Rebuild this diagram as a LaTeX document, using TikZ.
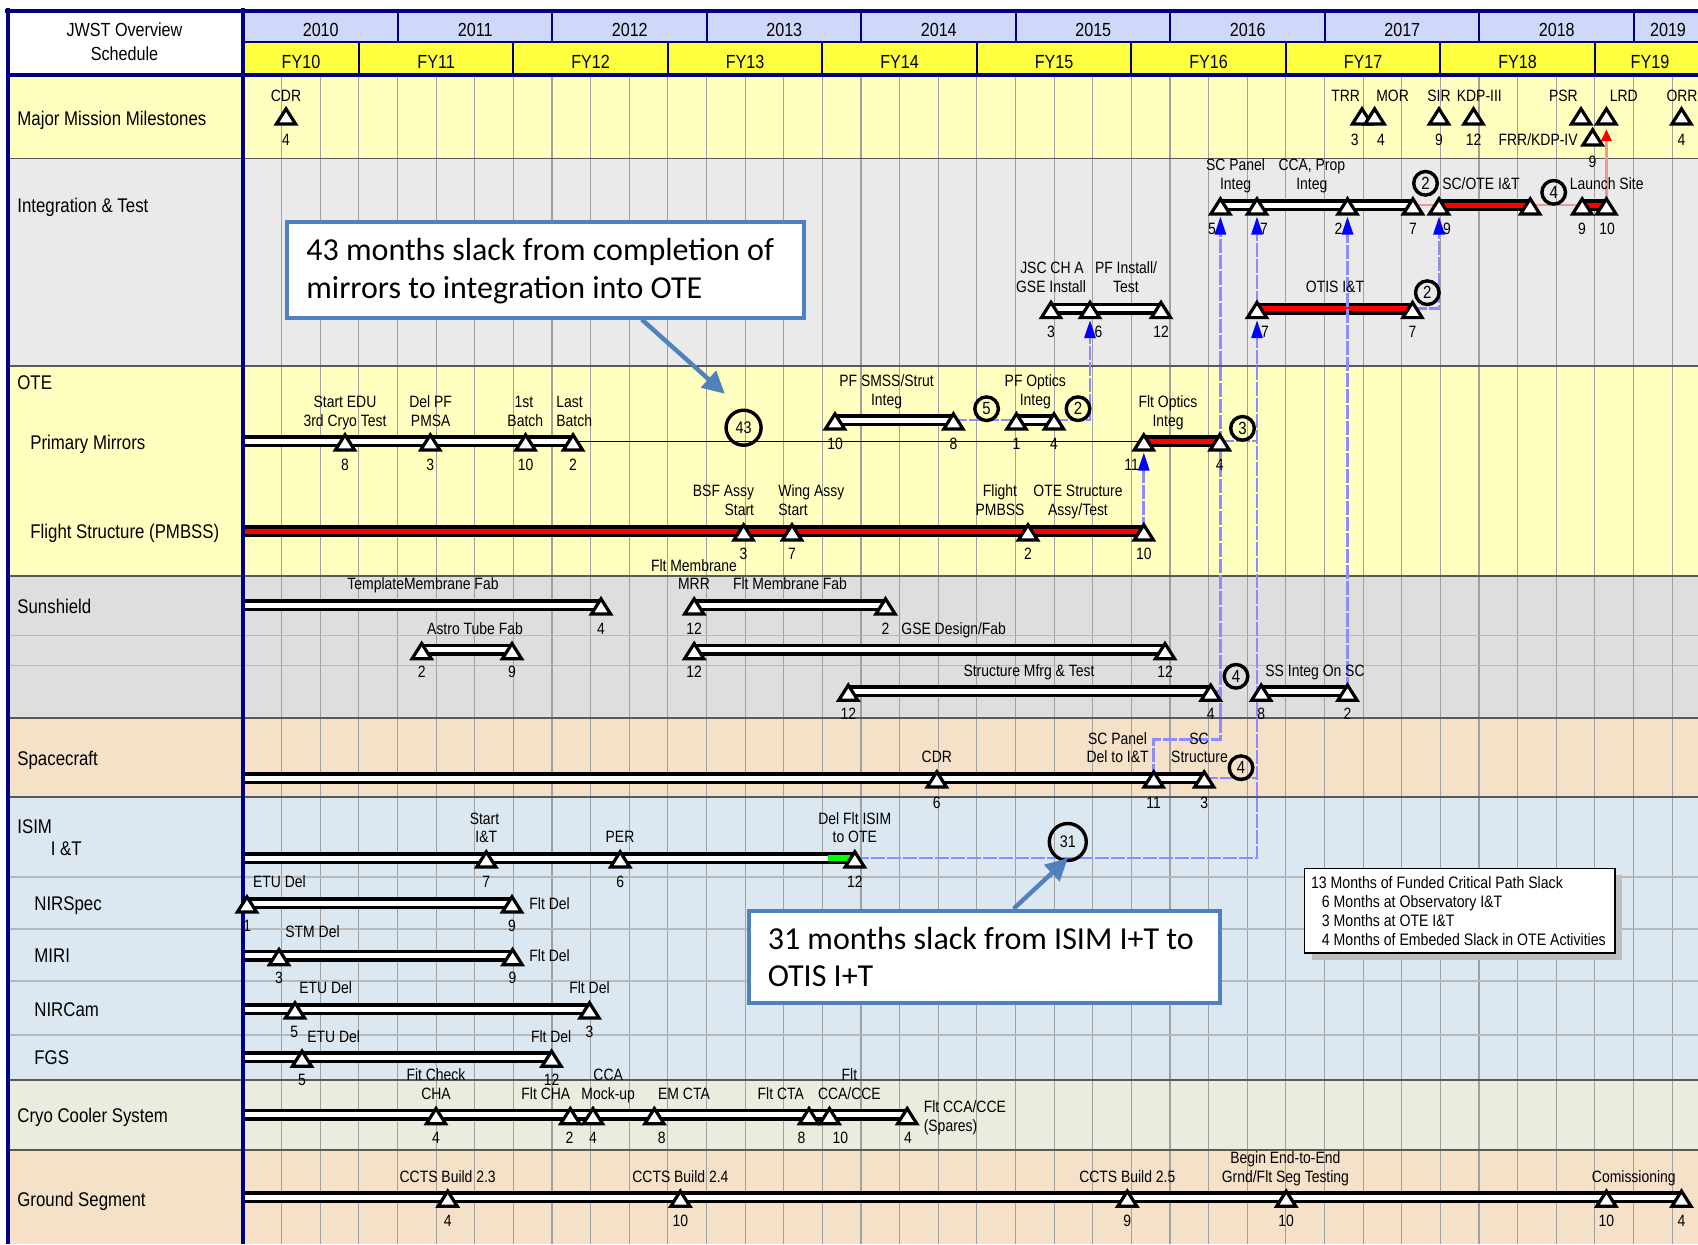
\documentclass[tikz,border=0pt]{standalone}
\usepackage{fontspec}
\setmainfont{Liberation Sans}[FakeStretch=0.85]
\newfontfamily\calib{Carlito}
\usetikzlibrary{arrows.meta,calc}
\definecolor{cNavy}{RGB}{0,0,128}
\definecolor{cYear}{RGB}{208,216,250}
\definecolor{cFY}{RGB}{255,255,64}
\definecolor{cYel}{RGB}{255,255,191}
\definecolor{cGrA}{RGB}{234,234,234}
\definecolor{cGrB}{RGB}{222,222,222}
\definecolor{cPeach}{RGB}{245,225,200}
\definecolor{cBlu}{RGB}{220,232,241}
\definecolor{cBeige}{RGB}{236,236,222}
\definecolor{cGrid}{RGB}{160,160,160}
\definecolor{cLB}{RGB}{140,140,255}
\definecolor{cLR}{RGB}{245,150,150}
\definecolor{cCall}{RGB}{79,129,189}
\definecolor{cShadow}{RGB}{190,190,190}
\newcounter{tn}
\newcommand\TXT[4][sm]{\stepcounter{tn}\node[#1] (t\arabic{tn}) at (#2,#3) {#4};}
\newcommand\mkms[3]{\coordinate (#1) at (#2,#3);}
\newcommand\mkbar[3]{\draw[#3] ($(#1)+(0,-4.3)$) rectangle ($(#2)+(0,4.3)$);}
\newcommand\NUMS[2]{\foreach \xx/\nn in {#2}{\TXT{\xx}{#1}{\nn}}}
\tikzset{
  sm/.style={font=\fontsize{8.2}{9.5}\selectfont, inner sep=0pt, text height=5.9pt, text depth=0pt},
  smw/.style={sm, anchor=west},
  sme/.style={sm, anchor=east},
  big/.style={font=\fontsize{9.9}{11}\selectfont, inner sep=0pt, text height=7.1pt, text depth=0pt, anchor=west},
  hdr/.style={font=\fontsize{9.5}{11}\selectfont, inner sep=0pt, text height=6.8pt, text depth=0pt},
  leg/.style={font=\fontsize{8.3}{9.5}\selectfont, inner sep=0pt, text height=6pt, text depth=0pt, anchor=west},
  cal/.style={font=\calib\fontsize{16}{19}\selectfont, inner sep=0pt, text height=10.1pt, text depth=0pt, anchor=west},
  circ/.style={circle, draw=black, line width=1.7pt, minimum size=11.8pt, inner sep=0pt, font=\fontsize{8.8}{9}\selectfont},
  barw/.style={draw=black, fill=white, line width=1.8pt},
  barr/.style={draw=black, fill=red, line width=1.8pt},
  mstone/.pic={\draw[black, fill=white, line width=1.6pt, line join=miter] (0,-6.2) -- (9.6,9) -- (-9.6,9) -- cycle;},
  blu/.style={draw=cLB, line width=1.4pt, dash pattern=on 7pt off 1pt},
  bt/.tip={Triangle[length=9pt,width=5.5pt,color=blue]},
  callarr/.style={draw=cCall, line width=2.2pt, -{Triangle[length=11pt,width=11pt,color=cCall]}},
  callbox/.style={draw=cCall, fill=white, line width=2pt, inner sep=0pt}
}
\begin{document}
\begin{tikzpicture}[x=0.5pt,y=-0.5pt]
\useasboundingbox (0,0) rectangle (1698,1244);
\fill[white] (0,0) rectangle (1698,1244);
% row backgrounds
\fill[cYel] (10,75) rectangle (1698,158.3);
\fill[cGrA] (10,158.3) rectangle (1698,366);
\fill[cYel] (10,366) rectangle (1698,576);
\fill[cGrB] (10,576) rectangle (1698,718);
\fill[cPeach] (10,718) rectangle (1698,797);
\fill[cBlu] (10,797) rectangle (1698,1080);
\fill[cBeige] (10,1080) rectangle (1698,1150);
\fill[cPeach] (10,1150) rectangle (1698,1244);
% header
\fill[white] (10,12.7) rectangle (241,75);
\fill[cYear] (243,12.7) rectangle (1698,41.7);
\fill[cFY] (243,41.7) rectangle (1698,75);
% grid
\foreach \q in {1,...,37} \draw[cGrid, line width=0.6pt] ({243+38.625*\q},75) -- ({243+38.625*\q},1244);
\foreach \yy in {635.3,665.3,877,929,981,1035} \draw[black!28, line width=0.6pt] (10,\yy) -- (1698,\yy);
\foreach \yy in {158.3,366,576,718,797,1080,1150} \draw[black!65, line width=0.6pt] (10,\yy) -- (1698,\yy);
\foreach \k in {1,...,9} \draw[cNavy, line width=1pt] ({243+154.5*\k},12.7) -- ({243+154.5*\k},41.7);
\foreach \k in {0,...,8} \draw[cNavy, line width=1pt] ({358.9+154.5*\k},41.7) -- ({358.9+154.5*\k},75);
\draw[cNavy, line width=1pt] (243,41.7) -- (1698,41.7);
\draw[cNavy, line width=1.6pt] (8,75) -- (1698,75);

% milestone coordinates
\mkms{mCDR}{286}{115} \mkms{mTRR}{1362}{115} \mkms{mMOR}{1374.6}{115} \mkms{mSIR}{1439}{115}
\mkms{mKDP}{1473.5}{115} \mkms{mPSR}{1581}{115} \mkms{mLRD}{1606.4}{115} \mkms{mFRR}{1592.6}{136} \mkms{mORR}{1681.5}{115}
\mkms{i1}{1220.4}{205} \mkms{i2}{1257}{205} \mkms{i3}{1347.5}{205} \mkms{i4}{1412.9}{205}
\mkms{i5}{1439}{205} \mkms{i6}{1530.2}{205} \mkms{i7}{1582.2}{205} \mkms{i8}{1606.4}{205}
\mkms{j1}{1051}{308.6} \mkms{j2}{1090}{308.6} \mkms{j3}{1161}{308.6}
\mkms{o1}{1257}{308.6} \mkms{o2}{1412.5}{308.6}
\coordinate (p0) at (243,441);
\mkms{p1}{345}{441} \mkms{p2}{430.3}{441} \mkms{p3}{525.6}{441} \mkms{p4}{573}{441}
\mkms{s1}{835}{420} \mkms{s2}{953.4}{420} \mkms{s3}{1016.5}{420} \mkms{s4}{1054}{420}
\mkms{f1}{1143.8}{441} \mkms{f2}{1219.7}{441}
\coordinate (g0) at (243,531);
\mkms{g1}{743.6}{531} \mkms{g2}{792}{531} \mkms{g3}{1028}{531} \mkms{g4}{1143.8}{531}
\coordinate (u0) at (243,605);
\mkms{u1}{601}{605} \mkms{u2}{694.2}{605} \mkms{u3}{885.5}{605}
\mkms{u4}{421.7}{649.7} \mkms{u5}{512}{649.7} \mkms{u6}{694.2}{649.7} \mkms{u7}{1165}{649.7}
\mkms{u8}{848.3}{691.3} \mkms{u9}{1210.7}{691.3} \mkms{u10}{1261.2}{691.3} \mkms{u11}{1347.5}{691.3}
\coordinate (c0) at (243,778);
\mkms{c1}{936.8}{778} \mkms{c2}{1153.7}{778} \mkms{c3}{1204.2}{778}
\coordinate (d0) at (243,858);
\mkms{d1}{486.3}{858} \mkms{d2}{620.2}{858} \mkms{d3}{854.8}{858}
\mkms{n1}{247}{903} \mkms{n2}{512}{903}
\coordinate (r0) at (243,955.7); \mkms{r1}{279}{955.7} \mkms{r2}{512.6}{955.7}
\coordinate (k0) at (243,1009); \mkms{k1}{295}{1009} \mkms{k2}{589.5}{1009}
\coordinate (q0) at (243,1057.3); \mkms{q1}{302}{1057.3} \mkms{q2}{551.6}{1057.3}
\coordinate (y0) at (243,1114.7);
\mkms{y1}{436}{1114.7} \mkms{y2}{570.3}{1114.7} \mkms{y3}{593}{1114.7} \mkms{y4}{654.4}{1114.7}
\mkms{y5}{809}{1114.7} \mkms{y6}{829.5}{1114.7} \mkms{y7}{907.2}{1114.7}
\coordinate (z0) at (243,1197.3);
\mkms{z1}{447.7}{1197.3} \mkms{z2}{680.4}{1197.3} \mkms{z3}{1127.3}{1197.3} \mkms{z4}{1286.2}{1197.3}
\mkms{z5}{1606.4}{1197.3} \mkms{z6}{1681.5}{1197.3}

% thin critical path line
\draw[black, line width=0.5pt] (p4) -- (f1);
% bars
\mkbar{i1}{i4}{barw} \mkbar{i5}{i6}{barr} \mkbar{i7}{i8}{barr}
\mkbar{j1}{j3}{barw} \mkbar{o1}{o2}{barr}
\mkbar{p0}{p4}{barw} \mkbar{s1}{s2}{barw} \mkbar{s3}{s4}{barw} \mkbar{f1}{f2}{barr}
\mkbar{g0}{g4}{barr}
\mkbar{u0}{u1}{barw} \mkbar{u2}{u3}{barw} \mkbar{u4}{u5}{barw} \mkbar{u6}{u7}{barw}
\mkbar{u8}{u9}{barw} \mkbar{u10}{u11}{barw}
\mkbar{c0}{c3}{barw}
\mkbar{d0}{d3}{barw}
\fill[green] (828,854.6) rectangle (850,861.4);
\mkbar{n1}{n2}{barw} \mkbar{r0}{r2}{barw} \mkbar{k0}{k2}{barw} \mkbar{q0}{q2}{barw}
\mkbar{y0}{y7}{barw} \mkbar{z0}{z6}{barw}

% borders
\draw[cNavy, line width=2pt] (5,10.5) -- (1698,10.5);
\draw[cNavy, line width=2.2pt] (7.7,8) -- (7.7,1244);
\draw[cNavy, line width=2pt] (242.6,8) -- (242.6,1244);

% connectors
\coordinate (kk1) at (1220.4,739.3);
\draw[blu,-{bt}] (d3) -| ($(o1)+(0,11.5)$);
\draw[blu,-{bt}] ($(o1)+(0,-4)$) -- ($(i2)+(0,11.5)$);
\draw[blu] (f2) -- (o1 |- f2);
\draw[blu] (c3) -- (o1 |- c3);
\draw[blu,-{bt}] (c2) |- (kk1) -- ($(i1)+(0,11.5)$);
\draw[blu] (u9) -- (i1 |- u9);
\draw[blu,-{bt}] (u11) -- ($(i3)+(0,11.5)$);
\draw[blu,-{bt}] (o2) -| ($(i5)+(0,11.5)$);
\draw[blu,-{bt}] (g4) -- ($(f1)+(0,11.5)$);
\draw[blu,-{bt}] (s4) -| ($(j2)+(0,11.5)$);
\draw[blu] (s2) -- (s3);
\draw[cLR, line width=1.2pt] (i4) -- (i5);
\draw[cLR, line width=1.2pt] (i6) -- (i7);
\draw[cLR, line width=1.5pt, -{Triangle[length=6pt,width=5pt,color=red]}] ($(i8)+(0,-4)$) -- ($(mLRD)+(0,14)$);

% milestones
\foreach \n in {mCDR,mTRR,mMOR,mSIR,mKDP,mPSR,mLRD,mFRR,mORR,i1,i2,i3,i4,i5,i6,i7,i8,j1,j2,j3,o1,o2,
  p1,p2,p3,p4,s1,s2,s3,s4,f1,f2,g1,g2,g3,g4,u1,u2,u3,u4,u5,u6,u7,u8,u9,u10,u11,c1,c2,c3,d1,d2,d3,
  n1,n2,r1,r2,k1,k2,q1,q2,y1,y2,y3,y4,y5,y6,y7,z1,z2,z3,z4,z5,z6} {\path (\n) pic{mstone};}

% circles
\node[circ] (cc1) at (1425.5,183.3) {2};
\node[circ] (cc2) at (1553.7,192.3) {4};
\node[circ] (cc3) at (1427.3,292.7) {2};
\node[circ] (cc4) at (986.6,408.7) {5};
\node[circ] (cc5) at (1078,408.7) {2};
\node[circ, minimum size=17.5pt, font=\fontsize{8.4}{9}\selectfont] (cc6) at (743.6,427.7) {43};
\node[circ] (cc7) at (1242.5,428.3) {3};
\node[circ] (cc8) at (1236,676.3) {4};
\node[circ] (cc9) at (1241,767.7) {4};
\node[circ, minimum size=18.5pt, font=\fontsize{8.4}{9}\selectfont] (cc10) at (1067.8,842) {31};

% header texts
\TXT[hdr]{124.5}{29.3}{JWST Overview}
\TXT[hdr]{124.5}{53.3}{Schedule}
\foreach \k/\yr in {0/2010,1/2011,2/2012,3/2013,4/2014,5/2015,6/2016,7/2017,8/2018}{\TXT[hdr]{320.75+154.5*\k}{29.3}{\yr}}
\TXT[hdr]{1668}{29.3}{2019}
\TXT[hdr]{301}{61.7}{FY10}
\foreach \k/\fy in {0/FY11,1/FY12,2/FY13,3/FY14,4/FY15,5/FY16,6/FY17,7/FY18}{\TXT[hdr]{436.1+154.5*\k}{61.7}{\fy}}
\TXT[hdr]{1650}{61.7}{FY19}

% row labels
\TXT[big]{17}{118}{Major Mission Milestones}
\TXT[big]{17}{205}{Integration \& Test}
\TXT[big]{17}{382.7}{OTE}
\TXT[big]{30}{442.7}{Primary Mirrors}
\TXT[big]{30}{531.7}{Flight Structure (PMBSS)}
\TXT[big]{17}{606}{Sunshield}
\TXT[big]{17}{758}{Spacecraft}
\TXT[big]{17}{826}{ISIM}
\TXT[big]{50.5}{848.7}{I \&T}
\TXT[big]{34}{903.7}{NIRSpec}
\TXT[big]{34}{955.7}{MIRI}
\TXT[big]{34}{1009}{NIRCam}
\TXT[big]{34}{1057.3}{FGS}
\TXT[big]{17}{1115.7}{Cryo Cooler System}
\TXT[big]{17}{1199}{Ground Segment}

% MMM
\TXT{286}{96}{CDR} \TXT{286}{139.3}{4}
\TXT{1345.7}{96}{TRR} \TXT{1354.7}{139.3}{3}
\TXT{1392.6}{96}{MOR} \TXT{1381}{139.3}{4}
\TXT{1439}{96}{SIR} \TXT{1439}{139.3}{9}
\TXT{1479.3}{96}{KDP-III} \TXT{1473.5}{139.3}{12}
\TXT{1563.4}{96}{PSR}
\TXT{1623.7}{96}{LRD}
\TXT[sme]{1578}{139.3}{FRR/KDP-IV} \TXT{1592.6}{161.7}{9}
\TXT{1682}{96}{ORR} \TXT{1681.5}{139.3}{4}
% I&T
\TXT{1235.6}{165}{SC Panel} \TXT{1235.6}{184}{Integ}
\TXT{1311.8}{165}{CCA, Prop} \TXT{1311.8}{184}{Integ}
\TXT{1481}{183.3}{SC/OTE I\&T}
\TXT{1606.7}{183.3}{Launch Site}
\NUMS{228.3}{1212/5,1264/7,1338.5/2,1413/7,1447/9,1582/9,1607/10}
\TXT{1052}{268}{JSC CH A} \TXT{1051}{287}{GSE Install}
\TXT{1126}{268}{PF Install/} \TXT{1126}{287}{Test}
\TXT{1335}{287}{OTIS I\&T}
\NUMS{331.7}{1051/3,1098.5/6,1161/12,1265/7,1412.5/7}
% OTE
\TXT{345}{401.7}{Start EDU} \TXT{345}{420.3}{3rd Cryo Test}
\TXT{430.7}{401.7}{Del PF} \TXT{430.7}{420.3}{PMSA}
\TXT{524}{401.7}{1st} \TXT{525.3}{420.3}{Batch}
\TXT[smw]{556}{401.7}{Last} \TXT[smw]{556}{420.3}{Batch}
\NUMS{465}{345/8,430.3/3,525.6/10,573/2,1131.6/11,1219.7/4}
\TXT{886.6}{380.3}{PF SMSS/Strut} \TXT{886.6}{399.3}{Integ}
\TXT{1035.3}{380.3}{PF Optics} \TXT{1035.3}{399.3}{Integ}
\NUMS{443.7}{835/10,953.4/8,1016.5/1,1054/4}
\TXT{1168}{401.7}{Flt Optics} \TXT{1168}{421}{Integ}
\TXT[sme]{754.5}{491}{BSF Assy} \TXT[sme]{754.5}{509.7}{Start}
\TXT[smw]{778}{491}{Wing Assy} \TXT[smw]{778}{509.7}{Start}
\TXT{1000}{491}{Flight} \TXT{1000}{509.7}{PMBSS}
\TXT{1078}{491}{OTE Structure} \TXT{1078}{509.7}{Assy/Test}
\NUMS{553.3}{743.6/3,792/7,1028/2,1143.8/10}
% Sunshield
\TXT{423}{583.7}{TemplateMembrane Fab}
\TXT{694}{566}{Flt Membrane} \TXT{694}{583.7}{MRR} \TXT{790}{583.7}{Flt Membrane Fab}
\NUMS{628.7}{601/4,694.2/12,885.5/2}
\TXT{475}{628.7}{Astro Tube Fab}
\TXT{953.7}{628.7}{GSE Design/Fab}
\NUMS{672}{421.7/2,512/9,694.2/12,1165/12}
\TXT{1029}{671}{Structure Mfrg \& Test}
\TXT{1315}{671}{SS Integ On SC}
\NUMS{713.7}{848.3/12,1210.7/4,1261.2/8,1347.5/2}
% Spacecraft
\TXT{936.8}{757}{CDR}
\TXT{1117.6}{738.7}{SC Panel} \TXT{1117.6}{757}{Del to I\&T}
\TXT{1199}{738.7}{SC} \TXT{1199.5}{757}{Structure}
\NUMS{803}{936.8/6,1153.7/11,1204.2/3}
% ISIM
\TXT{484.5}{818.7}{Start} \TXT{486.3}{836.3}{I\&T}
\TXT{620}{836.3}{PER}
\TXT{854.8}{818.7}{Del Flt ISIM} \TXT{854.8}{836.3}{to OTE}
\NUMS{881.3}{486.3/7,620.2/6,854.8/12}
\TXT[smw]{252.7}{881.3}{ETU Del} \TXT[smw]{529}{903.7}{Flt Del}
\NUMS{925.3}{247.3/1,512/9}
\TXT[smw]{285}{932}{STM Del} \TXT[smw]{529}{955.7}{Flt Del}
\NUMS{978}{279/3,512.6/9}
\TXT[smw]{299}{988}{ETU Del} \TXT{589.5}{987.3}{Flt Del}
\NUMS{1032}{294.2/5,589.5/3}
\TXT[smw]{307}{1036.3}{ETU Del} \TXT{551.2}{1036.3}{Flt Del}
\NUMS{1079.7}{302/5,551.6/12}
% Cryo
\TXT{436}{1074.7}{Fit Check} \TXT{436}{1093.7}{CHA}
\TXT{545.8}{1093.7}{Flt CHA}
\TXT{608.2}{1074.7}{CCA} \TXT{608.2}{1093.7}{Mock-up}
\TXT{684}{1093.7}{EM CTA}
\TXT{780.8}{1093.7}{Flt CTA}
\TXT{849.4}{1074.7}{Flt} \TXT{849.4}{1093.7}{CCA/CCE}
\TXT[smw]{923.4}{1106.3}{Flt CCA/CCE} \TXT[smw]{923.4}{1125.7}{(Spares)}
\NUMS{1137.3}{436/4,569.6/2,593/4,661.7/8,801.4/8,840.4/10,908/4}
% Ground
\TXT{447.7}{1177}{CCTS Build 2.3} \TXT{680.4}{1177}{CCTS Build 2.4} \TXT{1127.3}{1177}{CCTS Build 2.5}
\TXT{1285.4}{1158}{Begin End-to-End} \TXT{1285.4}{1177}{Grnd/Flt Seg Testing}
\TXT{1633.8}{1177}{Comissioning}
\NUMS{1220.3}{447.7/4,680.4/10,1127.3/9,1286.2/10,1606.4/10,1681.5/4}

% legend
\fill[cShadow] (1312,875) rectangle (1622,960.3);
\node[draw=black, fill=white, line width=0.6pt, minimum width=155.2pt, minimum height=42.15pt, inner sep=0pt] (legbox) at (1459.8,910.85) {};
\TXT[leg]{1310.7}{882}{13 Months of Funded Critical Path Slack}
\TXT[leg]{1321.5}{901.3}{6 Months at Observatory I\&T}
\TXT[leg]{1321.5}{920.3}{3 Months at OTE I\&T}
\TXT[leg]{1321.5}{939.7}{4 Months of Embeded Slack in OTE Activities}

% callouts
\node[callbox, minimum width=258.4pt, minimum height=47.75pt] (box1) at (545.6,269.75) {};
\TXT[cal]{306}{250}{43 months slack from completion of}
\TXT[cal]{306}{288.3}{mirrors to integration into OTE}
\coordinate (a1e) at (724.8,393.7);
\draw[callarr] ($(box1.south)+(96.2,0)$) -- (a1e);
\node[callbox, minimum width=235.75pt, minimum height=46pt] (box2) at (984.25,956.7) {};
\TXT[cal]{767.4}{938.9}{31 months slack from ISIM I+T to}
\TXT[cal]{767.4}{976.3}{OTIS I+T}
\draw[callarr] ($(box2.north)+(29.4,0)$) -- ($(cc10.south)+(0,-4)$);
\end{tikzpicture}
\end{document}
